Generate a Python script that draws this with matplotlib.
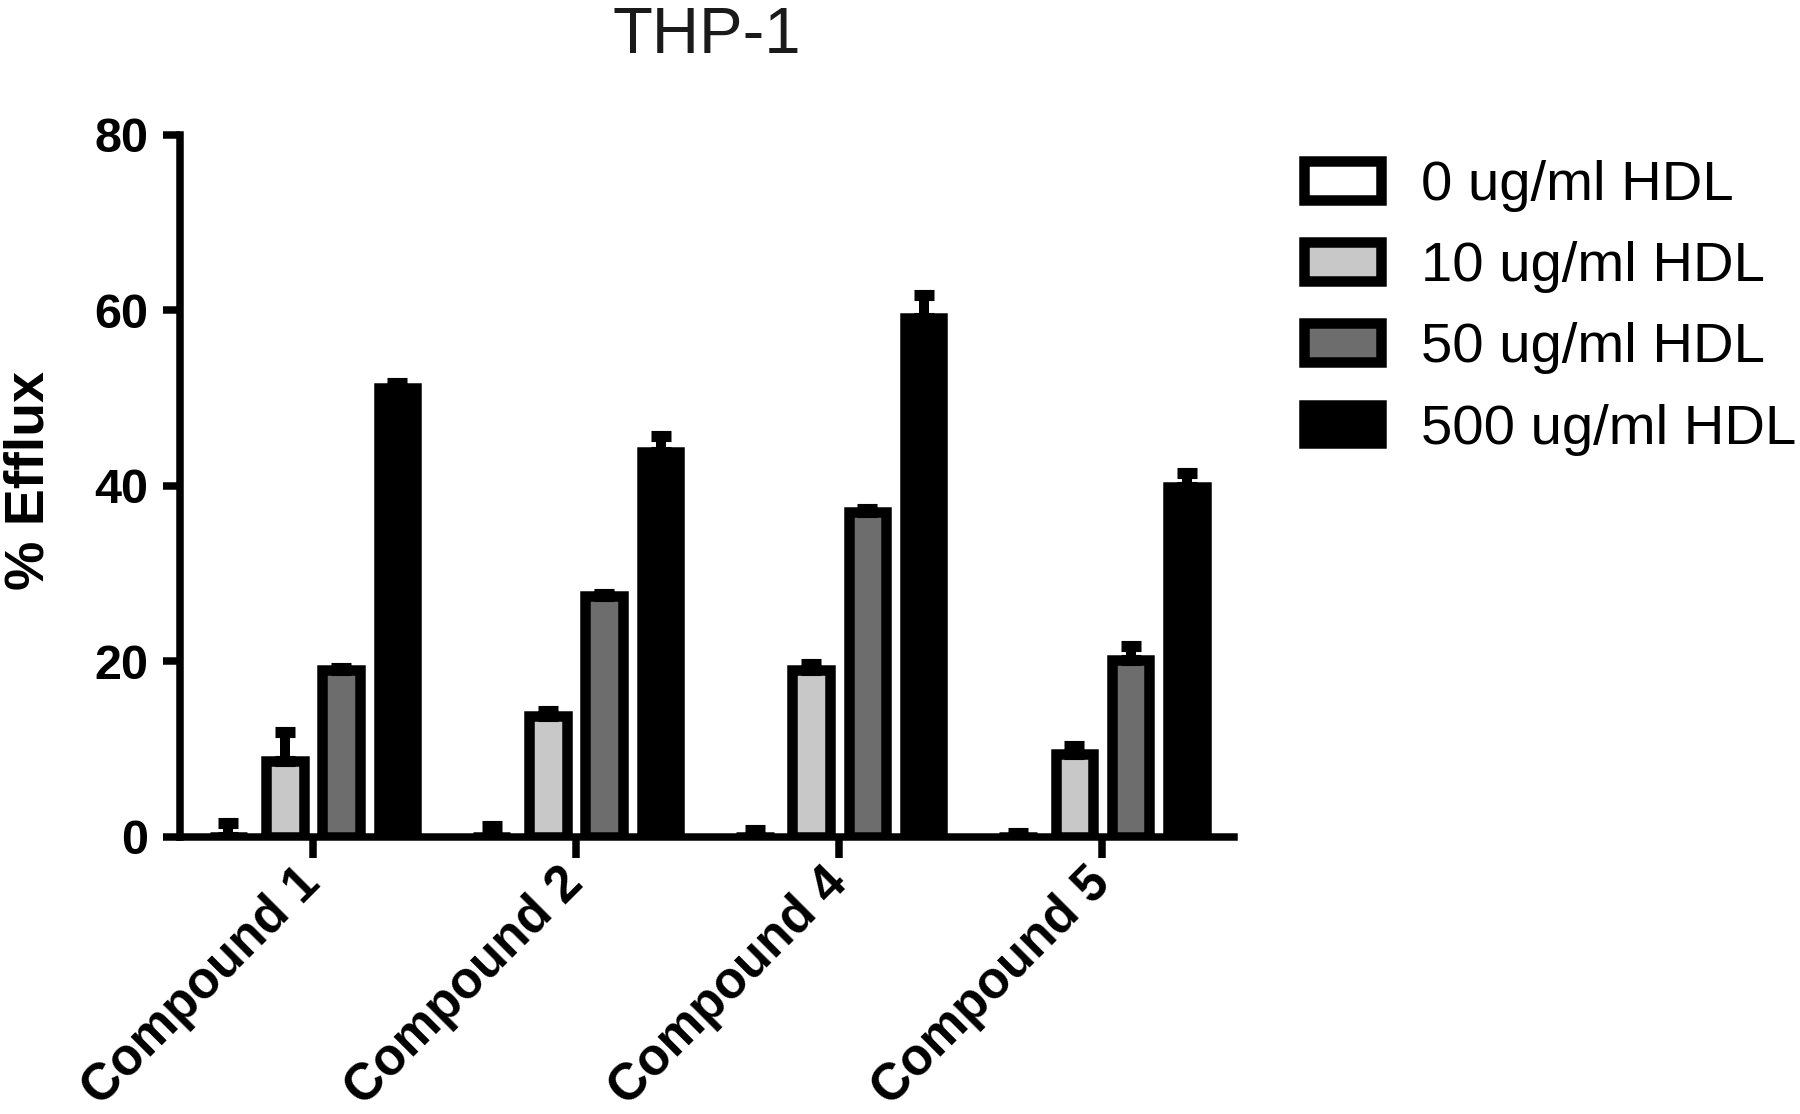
import numpy as np
import matplotlib
matplotlib.use("Agg")
import matplotlib.pyplot as plt

plt.rcParams['font.family'] = ['Liberation Sans', 'DejaVu Sans']

categories = ['Compound 1', 'Compound 2', 'Compound 4', 'Compound 5']
series_labels = ['0 ug/ml HDL', '10 ug/ml HDL', '50 ug/ml HDL', '500 ug/ml HDL']
hdl0 = [0.0, 0.0, 0.0, 0.0]
err0 = [1.6, 1.3, 0.75, 0.5]
hdl10 = [8.6, 13.8, 19.0, 9.4]
err10 = [3.4, 0.6, 0.7, 1.0]
hdl50 = [19.0, 27.4, 37.05, 20.2]
err50 = [0.3, 0.3, 0.3, 1.6]
hdl500 = [51.1, 43.9, 59.1, 39.9]
err500 = [0.6, 1.8, 2.6, 1.6]
yticks = [0, 20, 40, 60, 80]

values = [hdl0, hdl10, hdl50, hdl500]
errors = [err0, err10, err50, err500]
fills = ['white', '#c8c8c8', '#6d6d6d', 'black']

fig = plt.figure(figsize=(18, 11.14), dpi=100)
ax = fig.add_axes([179.5 / 1800, 1 - 837 / 1114, (1234 - 179.5) / 1800, (837 - 134.5) / 1114])

x = np.arange(len(categories))
pitch = 0.2139
width = 0.1425
lw = 7.56
handles = []
for i, (vals, errs, fc) in enumerate(zip(values, errors, fills)):
    off = (i - 1.5) * pitch
    b = ax.bar(x + off, vals, width, color=fc, edgecolor='black', linewidth=lw,
               label=series_labels[i], zorder=2)
    handles.append(b)
    ax.errorbar(x + off, vals, yerr=[np.zeros(len(vals)), errs], fmt='none',
                ecolor='black', elinewidth=7.2, capsize=7.5, capthick=8, zorder=3)

ax.set_xlim(-0.507, 3.5)
ax.set_ylim(0, 80)
ax.set_yticks(yticks)
ax.set_xticks(x)
ax.set_xticklabels(categories, rotation=45, ha='right', va='center',
                   rotation_mode='anchor', fontsize=37, fontweight='bold')
ax.tick_params(axis='y', labelsize=35, width=5.4, length=12.6, pad=10)
for lab in ax.get_yticklabels():
    lab.set_fontweight('bold')
ax.tick_params(axis='x', width=5.4, length=15, pad=13)

for s in ['top', 'right']:
    ax.spines[s].set_visible(False)
for s in ['left', 'bottom']:
    ax.spines[s].set_linewidth(5.4)

ax.set_ylabel('% Efflux', fontsize=40, fontweight='bold')
ax.yaxis.set_label_coords(-0.118, 0.507)

ax.set_title('THP-1', fontsize=47, pad=59, color='#1a1a1a')

leg = ax.legend(handles=handles, labels=series_labels, loc='upper left',
                bbox_to_anchor=(1304 / 1800, 1 - 160 / 1114), bbox_transform=fig.transFigure,
                frameon=False, fontsize=40.5, handlelength=1.37, handleheight=0.68,
                handletextpad=0.71, labelspacing=0.52, borderpad=0, borderaxespad=0)

fig.savefig('out.png', dpi=100)
